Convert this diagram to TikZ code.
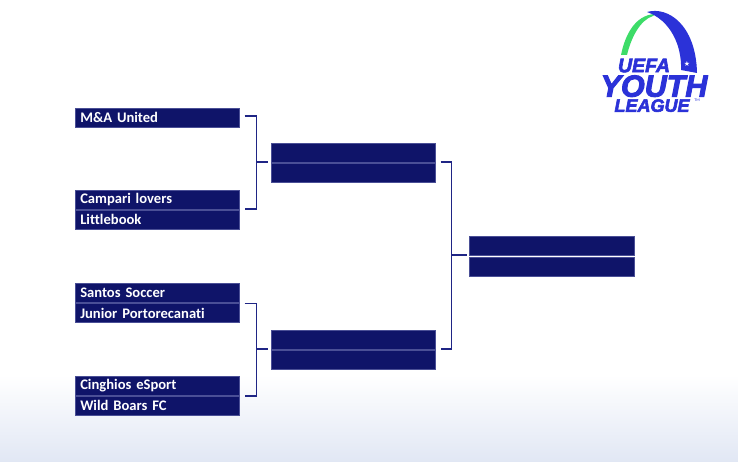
\documentclass[tikz,border=0pt]{standalone}
\usepackage{fontspec}
\setmainfont[Ligatures=NoCommon,WordSpace=0.8]{Carlito}
\newfontfamily\logofont[FakeBold=3]{Liberation Sans}
\newfontfamily\starfont{DejaVu Sans}
\definecolor{teamblue}{HTML}{0F1469}
\definecolor{teamedge}{HTML}{4A4F96}
\definecolor{linkblue}{HTML}{1F2585}
\definecolor{logoblue}{HTML}{2B32D8}
\definecolor{logogreen}{HTML}{3DDC68}
\definecolor{fadeblue}{HTML}{E1E7F4}
\usetikzlibrary{positioning}

\begin{document}
\begin{tikzpicture}[
		x=1pt, y=-1pt,
		team/.style={draw=teamedge, fill=teamblue, text=white, minimum height=19pt, minimum width=164.5pt, text width=154pt, inner xsep=5pt, inner ysep=0pt, align=left, font=\fontsize{14.6}{14.6}\selectfont\bfseries, outer sep=0pt},
		link/.style={draw=linkblue, line width=1.2pt, shorten <=5pt},
		stem/.style={draw=linkblue, line width=1.2pt, shorten >=3pt},
		logotext/.style={text=logoblue, inner sep=0pt, text depth=0pt},
	]
	\useasboundingbox (0,0) rectangle (738,462);
	% background
	\fill[white] (0,0) rectangle (738,462);
	\shade[top color=white, bottom color=fadeblue] (0,375) rectangle (738,462);

	% first round
	\node[team, anchor=north west] (ma) at (75,108) {M\&A United};
	\node[team, below=63pt of ma] (campari) {Campari lovers};
	\node[team, below=1pt of campari] (littlebook) {Littlebook};
	\node[team, below=54pt of littlebook] (santos) {Santos Soccer};
	\node[team, below=1.5pt of santos] (junior) {Junior Portorecanati};
	\node[team, below=53.5pt of junior] (cinghios) {Cinghios eSport};
	\node[team, below=1pt of cinghios] (wild) {Wild Boars FC};

	% second round
	\node[team, right=31.5pt of ma, yshift=-35pt] (semia) {};
	\node[team, below=1pt of semia] (semib) {};
	\node[team, below=148pt of semib] (semic) {};
	\node[team, below=1pt of semic] (semid) {};

	% final
	\node[team, right=34pt of semia, yshift=-93pt] (finala) {};
	\node[team, below=2pt of finala] (finalb) {};

	% brackets
	\coordinate[right=17pt of ma.east, yshift=1.5pt] (topjoin);
	\coordinate[right=17pt of junior.north east] (botjoin);
	\coordinate[right=16pt of semia.south east] (finaljoin);

	\draw[link, shorten >=5pt] (topjoin -| ma.east) -- (topjoin) |- (campari.south east);
	\draw[stem] (topjoin |- semia.south west) -- (semia.south west);
	\draw[link, shorten >=5pt] (junior.north east) -- (botjoin) |- (wild.north east);
	\draw[stem] (botjoin |- semic.south west) -- (semic.south west);
	\draw[link, shorten >=5pt] (semia.south east) -- (finaljoin) |- (semic.south east);
	\draw[stem] (finaljoin |- finala.south west) -- (finala.south west);

	% logo
	\fill[logogreen] (621,55) .. controls (625,35) and (635,15) .. (655,14)
		-- (653,16) .. controls (640,20) and (631,38) .. (627,55) -- cycle;
	\fill[logoblue] (647,12) .. controls (668,6) and (696,25) .. (697,73)
		-- (681,70) .. controls (682,45) and (670,20) .. (647,12) -- cycle;
	\node[logotext, text=white, font=\starfont\fontsize{7}{7}\selectfont] (star) at (687,63.5) {★};
	\node[logotext, font=\logofont\fontsize{19.5}{19.5}\selectfont\bfseries\itshape] (uefa) at (644,65.5) {UEFA};
	\node[logotext, font=\logofont\fontsize{30.5}{30.5}\selectfont\bfseries\itshape] (youth) at (654,86) {YOUTH};
	\node[logotext, font=\logofont\fontsize{18}{18}\selectfont\bfseries\itshape] (league) at (652,105.5) {LEAGUE};
	\node[logotext, font=\fontsize{4}{4}\selectfont] (tm) at (697,100.5) {TM};
\end{tikzpicture}
\end{document}
